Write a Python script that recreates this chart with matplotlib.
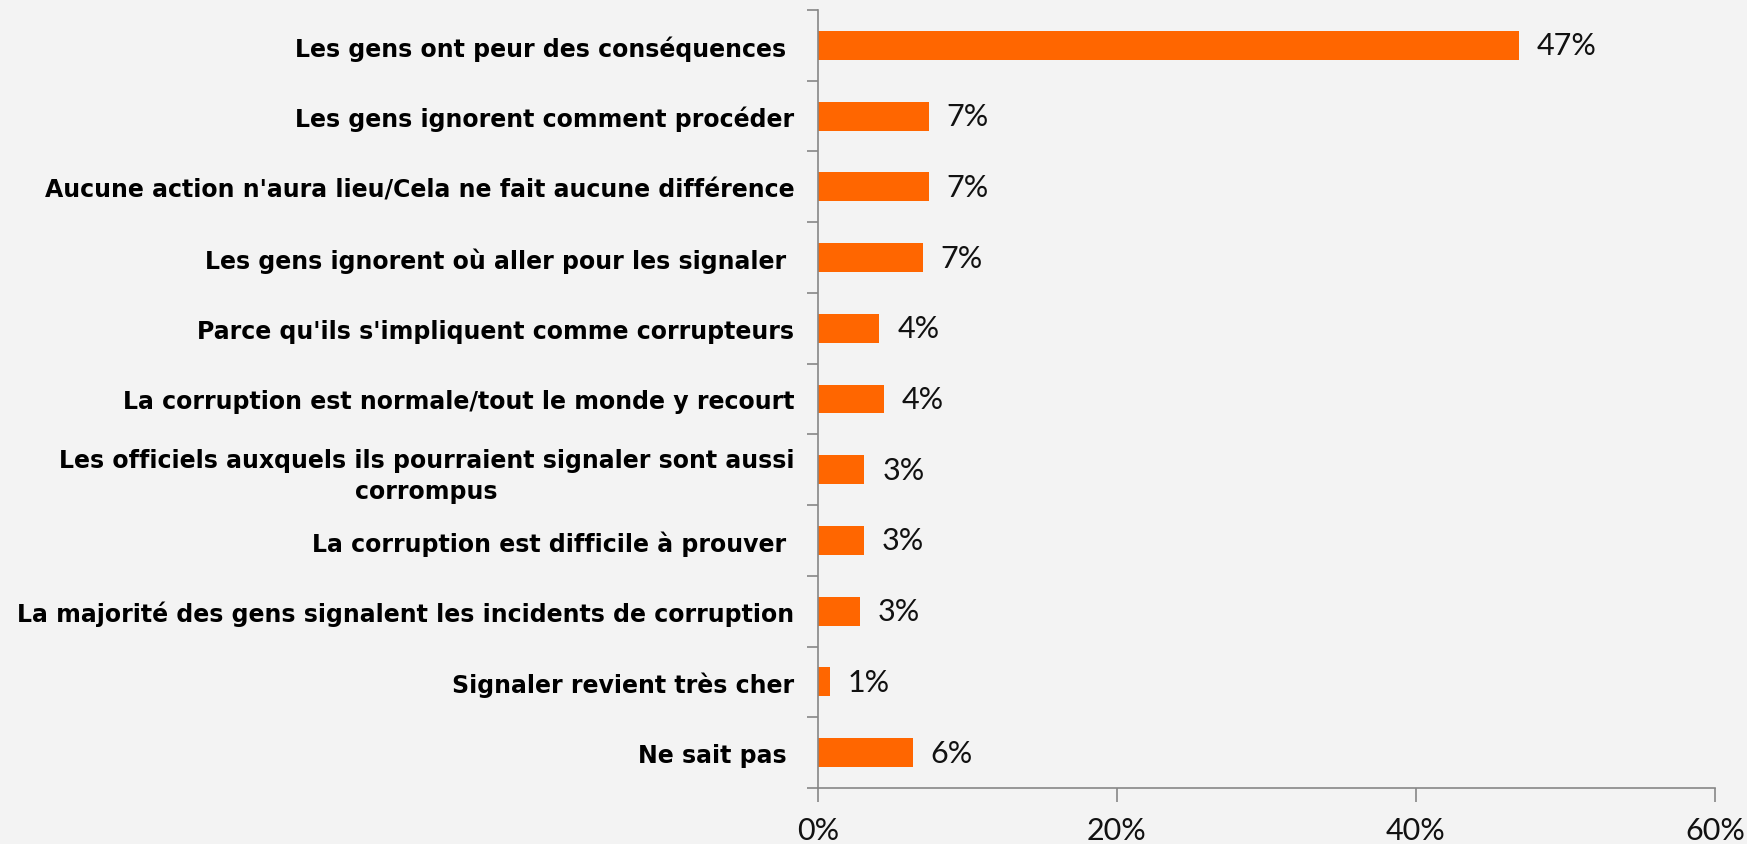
import matplotlib.pyplot as plt
from matplotlib.ticker import FuncFormatter

# Data
categories = [
    "Les gens ont peur des conséquences ",
    "Les gens ignorent comment procéder",
    "Aucune action n'aura lieu/Cela ne fait aucune différence",
    "Les gens ignorent où aller pour les signaler ",
    "Parce qu'ils s'impliquent comme corrupteurs",
    "La corruption est normale/tout le monde y recourt",
    "Les officiels auxquels ils pourraient signaler sont aussi\ncorrompus",
    "La corruption est difficile à prouver ",
    "La majorité des gens signalent les incidents de corruption",
    "Signaler revient très cher",
    "Ne sait pas ",
]
values = [46.9, 7.4, 7.4, 7.0, 4.1, 4.4, 3.1, 3.05, 2.8, 0.8, 6.35]
value_labels = ["47%", "7%", "7%", "7%", "4%", "4%", "3%", "3%", "3%", "1%", "6%"]
x_ticks = [0, 20, 40, 60]

bg = "#f3f3f3"
fig = plt.figure(figsize=(17.47, 8.45), dpi=100, facecolor=bg)
ax = fig.add_axes([818 / 1747, 1 - 789 / 845, (1715 - 818) / 1747, (789 - 11) / 845])
ax.set_facecolor(bg)

ypos = list(range(len(categories)))
ax.barh(ypos, values, height=0.41, color="#ff6600")
ax.set_ylim(len(categories) - 0.5, -0.5)
ax.set_xlim(0, 60)

for y, v, lab in zip(ypos, values, value_labels):
    ax.text(v + 1.2, y, lab, va="center", ha="left", fontsize=22,
            family="Lato", color="#111111")

# category separators as major ticks, names on minor ticks
ax.set_yticks([i - 0.5 for i in range(len(categories) + 1)])
ax.set_yticklabels([])
ax.set_yticks(ypos, minor=True)
ax.set_yticklabels(categories, minor=True, fontsize=17, fontweight="bold",
                   family="DejaVu Sans", multialignment="center", linespacing=1.35)
ax.tick_params(axis="y", which="major", length=8, color="#868686", width=1.2)
ax.tick_params(axis="y", which="minor", length=0, pad=17)

ax.set_xticks(x_ticks)
ax.xaxis.set_major_formatter(FuncFormatter(lambda v, p: f"{v:.0f}%"))
ax.tick_params(axis="x", length=10, color="#868686", width=1.2, labelsize=22,
               labelcolor="#111111", pad=10)
for t in ax.get_xticklabels():
    t.set_family("Lato")

for s in ["top", "right"]:
    ax.spines[s].set_visible(False)
for s in ["left", "bottom"]:
    ax.spines[s].set_color("#868686")
    ax.spines[s].set_linewidth(1.2)

fig.savefig("out.png", dpi=100, facecolor=bg)
